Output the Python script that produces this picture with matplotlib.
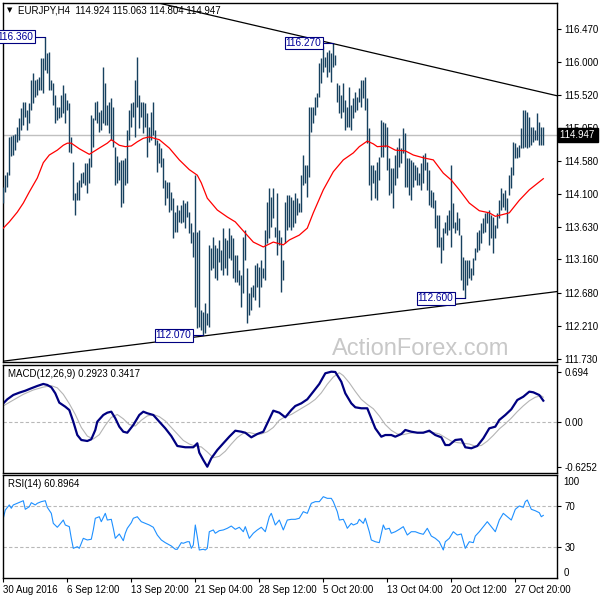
import numpy as np
import matplotlib.pyplot as plt
from matplotlib import transforms

plt.rcParams['font.family'] = ['Liberation Sans', 'DejaVu Sans']

# EURJPY H4 bars, high / low per bar
highs = [
    114.20, 114.37, 114.42, 114.92, 114.93, 114.95, 114.96, 115.06, 115.19, 115.34,
    115.42, 115.42, 115.31, 115.41, 115.74, 115.84, 115.74, 115.75, 115.78, 116.05,
    116.05, 116.36, 116.13, 116.14, 115.74, 115.69, 115.52, 115.35, 115.35, 115.52,
    115.67, 115.55, 115.45, 115.41, 114.92, 114.56, 114.11, 114.27, 114.30, 114.40,
    114.42, 114.55, 114.55, 114.62, 115.23, 115.19, 115.42, 115.43, 115.28, 115.31,
    115.92, 115.69, 115.38, 115.42, 115.48, 115.35, 114.78, 114.65, 114.56, 114.59,
    114.59, 114.62, 115.02, 115.31, 115.41, 115.42, 115.74, 116.07, 115.52, 115.42,
    115.42, 115.41, 115.26, 115.06, 115.28, 115.42, 115.02, 114.88, 114.83, 114.76,
    114.62, 114.30, 114.27, 114.27, 114.13, 114.04, 113.84, 113.94, 113.87, 113.94,
    114.01, 113.97, 114.00, 113.84, 113.68, 113.55, 114.37, 113.55, 113.58, 112.43,
    112.41, 112.54, 112.39, 113.37, 113.33, 113.48, 113.37, 113.33, 113.44, 113.30,
    113.61, 113.47, 113.44, 113.61, 113.51, 113.47, 113.22, 113.22, 113.01, 112.94,
    113.48, 113.58, 113.04, 112.68, 112.76, 112.79, 113.08, 113.11, 113.05, 113.15,
    113.04, 113.58, 113.99, 114.19, 114.06, 114.19, 113.63, 114.11, 113.58, 113.48,
    113.15, 113.99, 114.09, 114.09, 114.06, 114.01, 114.11, 114.04, 113.97, 114.37,
    114.66, 114.52, 114.52, 115.35, 115.35, 115.35, 115.49, 115.55, 115.98, 116.05,
    116.22, 116.07, 116.14, 116.17, 116.13, 116.27, 116.10, 115.69, 115.67, 115.52,
    115.69, 115.45, 115.35, 115.64, 115.38, 115.48, 115.56, 115.49, 115.62, 115.74,
    115.74, 115.78, 115.48, 115.05, 114.52, 114.52, 114.45, 114.56, 114.63, 115.16,
    115.13, 115.12, 115.06, 114.62, 114.47, 114.47, 114.66, 114.78, 114.90, 114.76,
    115.05, 114.98, 114.62, 114.62, 114.59, 114.56, 114.52, 114.49, 114.40, 114.55,
    114.66, 114.69, 114.56, 114.45, 114.16, 114.13, 114.01, 113.80, 113.80, 113.48,
    113.61, 113.70, 113.80, 113.87, 114.52, 113.97, 113.70, 113.84, 113.76, 113.51,
    113.20, 113.15, 113.15, 113.15, 113.04, 113.18, 113.33, 113.55, 113.58, 113.68,
    113.76, 113.83, 113.84, 113.87, 113.80, 113.77, 113.66, 113.83, 114.01, 114.19,
    114.11, 114.16, 114.04, 114.37, 114.49, 114.85, 114.83, 114.78, 114.80, 115.05,
    115.31, 115.31, 115.28, 115.21, 115.06, 115.06, 115.02, 115.26, 115.13, 115.06,
    115.06]
lows = [
    113.97, 114.13, 114.20, 114.37, 114.65, 114.66, 114.73, 114.85, 114.88, 115.02,
    115.09, 115.21, 115.02, 115.12, 115.31, 115.41, 115.49, 115.52, 115.59, 115.59,
    115.55, 115.88, 115.84, 115.59, 115.59, 115.38, 115.12, 115.16, 115.19, 115.21,
    115.26, 115.12, 115.31, 114.70, 114.69, 114.01, 113.80, 114.01, 114.01, 114.20,
    114.26, 114.23, 114.11, 114.26, 114.49, 114.78, 115.16, 115.12, 114.99, 115.02,
    115.12, 115.09, 115.09, 114.98, 114.88, 114.78, 114.23, 114.26, 114.30, 113.91,
    113.97, 114.23, 114.26, 114.88, 115.06, 115.21, 114.92, 115.35, 115.05, 115.21,
    114.98, 115.06, 114.63, 114.85, 114.88, 114.95, 114.80, 114.42, 114.55, 114.49,
    114.19, 113.94, 114.04, 113.84, 113.87, 113.47, 113.55, 113.55, 113.70, 113.68,
    113.70, 113.61, 113.77, 113.54, 113.40, 113.20, 112.48, 112.18, 112.19, 112.15,
    112.07, 112.10, 112.22, 112.19, 113.01, 113.04, 112.89, 112.87, 113.12, 113.01,
    112.94, 113.04, 112.94, 113.18, 113.15, 112.89, 112.84, 112.84, 112.79, 112.48,
    112.68, 113.15, 112.25, 112.36, 112.43, 112.62, 112.58, 112.76, 112.48, 112.76,
    112.89, 112.87, 113.40, 113.47, 113.63, 113.76, 113.48, 113.22, 113.37, 112.69,
    112.87, 113.40, 113.58, 113.63, 113.58, 113.63, 113.68, 113.80, 113.84, 113.84,
    114.23, 114.26, 114.06, 114.34, 114.99, 115.12, 115.23, 115.35, 115.49, 115.69,
    115.85, 115.92, 115.78, 115.85, 115.71, 115.92, 115.95, 115.42, 115.26, 115.19,
    115.28, 115.02, 115.06, 115.06, 115.02, 115.19, 115.28, 115.31, 115.42, 115.35,
    115.48, 115.31, 114.83, 114.23, 114.01, 114.26, 114.04, 114.01, 114.30, 114.63,
    114.63, 114.78, 114.45, 114.09, 114.11, 113.90, 114.23, 114.33, 114.49, 114.55,
    114.69, 114.20, 114.20, 114.09, 114.01, 114.20, 114.30, 114.23, 114.23, 114.16,
    114.26, 114.45, 114.16, 113.94, 113.91, 113.90, 113.61, 113.34, 113.34, 113.11,
    113.30, 113.54, 113.51, 113.58, 113.34, 113.61, 113.54, 113.58, 113.51, 112.87,
    112.72, 112.60, 112.79, 112.89, 112.87, 112.94, 113.15, 113.27, 113.30, 113.40,
    113.54, 113.55, 113.68, 113.37, 113.47, 113.25, 113.47, 113.61, 113.76, 113.87,
    113.91, 113.87, 113.68, 114.09, 114.19, 114.37, 114.62, 114.62, 114.63, 114.76,
    114.76, 114.78, 114.76, 114.78, 114.80, 114.85, 114.88, 114.88, 114.80, 114.80,
    114.80]
last_ohlc = [114.924, 115.063, 114.804, 114.947]

# red moving average
ma_idx = [0, 3, 7, 10, 13, 17, 20, 23, 27, 30, 32, 34, 38, 43, 48, 52, 54, 58, 61, 64,
          67, 70, 73, 78, 83, 88, 93, 97, 99, 102, 107, 112, 116, 120, 125, 130, 135, 140, 143, 148,
          152, 155, 160, 165, 170, 175, 178, 182, 185, 187, 192, 196, 201, 205, 210, 215, 220, 224, 228, 233,
          238, 243, 246, 249, 253, 258, 263, 270]
ma_val = [113.61, 113.70, 113.84, 113.97, 114.13, 114.33, 114.55, 114.66, 114.73, 114.80,
          114.83, 114.83, 114.75, 114.67, 114.76, 114.83, 114.88, 114.80, 114.78, 114.79,
          114.85, 114.90, 114.92, 114.88, 114.76, 114.59, 114.45, 114.37, 114.26, 114.04,
          113.87, 113.77, 113.70, 113.57, 113.41, 113.34, 113.41, 113.37, 113.44, 113.51,
          113.61, 113.83, 114.16, 114.42, 114.59, 114.69, 114.78, 114.86, 114.82, 114.78,
          114.79, 114.73, 114.72, 114.66, 114.62, 114.59, 114.40, 114.30, 114.16, 113.97,
          113.86, 113.83, 113.78, 113.80, 113.83, 114.01, 114.16, 114.32]

# trend lines: bar index, price
upper_x = [78, 277]
upper_y = [116.84, 115.51]
lower_x = [0, 277]
lower_y = [111.70, 112.70]

# marked extremes: bar index, price
mark_idx = [21, 165, 100, 231]
mark_val = [116.360, 116.270, 112.070, 112.600]

# MACD(12,26,9)
macd_idx = [0, 2, 5, 8, 11, 14, 17, 20, 22, 24, 26, 28, 31, 33, 35, 37, 39, 42, 44, 46,
            47, 50, 52, 54, 56, 58, 60, 62, 65, 68, 70, 72, 75, 78, 81, 84, 87, 91, 95, 97,
            98, 100, 102, 104, 107, 110, 113, 116, 119, 121, 124, 127, 130, 132, 135, 138, 141, 144, 146, 149,
            152, 155, 158, 161, 164, 166, 169, 171, 174, 176, 179, 182, 184, 186, 189, 191, 194, 196, 199, 201,
            204, 207, 210, 213, 216, 219, 221, 223, 226, 229, 231, 234, 237, 240, 243, 246, 248, 251, 254, 257,
            260, 263, 265, 268, 270]
macd_val = [0.255, 0.311, 0.371, 0.403, 0.430, 0.464, 0.496, 0.524, 0.510, 0.478,
            0.394, 0.264, 0.208, 0.162, 0.0, -0.185, -0.254, -0.268, -0.244, -0.115,
            0.0, 0.093, 0.125, 0.139, 0.047, -0.069, -0.139, -0.153, -0.046, 0.093,
            0.139, 0.117, 0.093, 0.0, -0.092, -0.199, -0.337, -0.355, -0.355, -0.300,
            -0.430, -0.532, -0.625, -0.508, -0.393, -0.300, -0.208, -0.125, -0.139, -0.153,
            -0.217, -0.171, -0.139, -0.022, 0.153, 0.125, 0.061, 0.162, 0.218, 0.255,
            0.311, 0.417, 0.524, 0.672, 0.694, 0.690, 0.555, 0.394, 0.255, 0.200,
            0.186, 0.186, 0.047, -0.092, -0.208, -0.185, -0.185, -0.208, -0.171, -0.115,
            -0.139, -0.153, -0.153, -0.125, -0.185, -0.217, -0.324, -0.324, -0.254, -0.244,
            -0.355, -0.369, -0.337, -0.231, -0.092, -0.069, 0.024, 0.093, 0.172, 0.301,
            0.347, 0.417, 0.408, 0.370, 0.292]
sig_idx = [0, 5, 10, 15, 20, 24, 27, 30, 33, 36, 39, 42, 45, 48, 51, 54, 57, 60, 63, 66,
           69, 72, 75, 78, 81, 84, 87, 90, 93, 96, 99, 102, 105, 108, 111, 114, 117, 120, 123, 126,
           129, 132, 135, 138, 141, 144, 147, 150, 153, 156, 159, 162, 165, 168, 170, 173, 176, 179, 182, 185,
           188, 191, 194, 197, 200, 203, 206, 209, 212, 215, 218, 221, 224, 227, 230, 233, 236, 239, 242, 245,
           248, 251, 254, 257, 260, 263, 266, 269, 270]
sig_val = [0.22, 0.30, 0.38, 0.44, 0.48, 0.50, 0.47, 0.38, 0.25, 0.10,
           -0.08, -0.20, -0.24, -0.18, -0.05, 0.06, 0.10, 0.04, -0.04, -0.06,
           0.02, 0.08, 0.10, 0.07, 0.01, -0.08, -0.17, -0.26, -0.31, -0.34,
           -0.35, -0.42, -0.50, -0.48, -0.41, -0.31, -0.22, -0.16, -0.15, -0.17,
           -0.17, -0.14, -0.08, 0.02, 0.07, 0.10, 0.15, 0.20, 0.25, 0.31,
           0.40, 0.52, 0.62, 0.68, 0.64, 0.54, 0.42, 0.31, 0.24, 0.18,
           0.08, -0.04, -0.12, -0.17, -0.18, -0.16, -0.15, -0.15, -0.14, -0.15,
           -0.17, -0.22, -0.27, -0.29, -0.30, -0.31, -0.34, -0.33, -0.27, -0.19,
           -0.10, -0.03, 0.05, 0.14, 0.22, 0.29, 0.34, 0.36, 0.34]

# RSI(14)
rsi_idx = [0, 1, 3, 4, 5, 7, 9, 10, 11, 13, 14, 16, 17, 19, 21, 22, 24, 25, 27, 28,
           30, 31, 33, 34, 35, 37, 38, 40, 42, 44, 45, 46, 48, 49, 51, 52, 54, 55, 56, 58,
           60, 61, 62, 64, 65, 67, 69, 71, 73, 75, 77, 79, 81, 84, 86, 87, 89, 90, 92, 93,
           94, 95, 96, 97, 98, 100, 101, 102, 103, 105, 106, 108, 110, 112, 114, 116, 118, 120, 121, 123,
           125, 127, 129, 131, 133, 134, 136, 138, 140, 142, 144, 146, 148, 150, 152, 154, 156, 158, 160, 162,
           164, 165, 167, 168, 170, 171, 172, 174, 175, 177, 178, 180, 181, 183, 184, 186, 188, 190, 191, 193,
           194, 196, 198, 200, 202, 204, 206, 208, 210, 212, 214, 216, 218, 220, 221, 223, 225, 227, 229, 231,
           233, 235, 236, 238, 240, 242, 244, 246, 248, 250, 252, 254, 256, 258, 260, 261, 262, 264, 266, 268,
           269, 270]
rsi_val = [58.1, 66.1, 71.0, 67.8, 71.0, 72.6, 74.2, 75.1, 66.8, 69.3,
           73.2, 71.0, 72.6, 74.2, 75.1, 68.7, 62.9, 53.2, 49.4, 51.6,
           56.4, 51.6, 50.0, 38.7, 29.0, 30.6, 29.0, 38.7, 37.1, 37.8,
           46.8, 58.1, 59.6, 54.8, 62.9, 56.4, 57.1, 48.4, 38.7, 42.9,
           36.4, 43.6, 48.4, 53.8, 58.1, 59.6, 54.8, 53.2, 51.6, 49.4,
           41.9, 37.1, 34.5, 31.3, 28.1, 28.1, 34.5, 33.9, 35.4, 35.4,
           29.0, 32.2, 51.6, 40.3, 27.4, 28.1, 27.4, 29.0, 45.1, 46.8,
           43.6, 46.1, 46.8, 48.4, 50.6, 47.4, 49.4, 45.1, 50.0, 38.7,
           43.6, 46.8, 49.4, 45.1, 59.6, 62.9, 51.6, 56.4, 46.8, 56.4,
           57.1, 57.1, 58.1, 64.5, 62.9, 72.6, 74.2, 74.2, 79.0, 77.4,
           77.4, 74.2, 64.5, 56.4, 57.1, 53.2, 48.4, 53.2, 51.6, 53.2,
           57.1, 53.2, 58.1, 45.1, 37.1, 35.4, 34.5, 51.6, 47.4, 48.4,
           43.6, 45.1, 47.4, 50.0, 41.9, 45.1, 45.1, 43.6, 42.6, 48.4,
           40.9, 38.7, 35.4, 27.4, 35.4, 38.7, 45.1, 41.9, 42.9, 29.0,
           35.4, 34.5, 40.9, 45.1, 50.0, 54.8, 50.0, 45.1, 56.4, 62.9,
           59.6, 56.4, 66.8, 70.0, 68.7, 74.2, 75.8, 66.8, 65.4, 63.5,
           59.6, 60.9]

price_ticks = [116.470, 116.000, 115.520, 115.050, 114.580, 114.100,
               113.630, 113.160, 112.680, 112.210, 111.730]
macd_ticks = [0.694, 0.0, -0.6252]
macd_tick_labels = ['0.694', '0.00', '-0.6252']
date_pos = [0, 32, 64, 96, 128, 160, 192, 224, 256]
date_labels = ['30 Aug 2016', '6 Sep 12:00', '13 Sep 20:00', '21 Sep 04:00', '28 Sep 12:00',
               '5 Oct 20:00', '13 Oct 04:00', '20 Oct 12:00', '27 Oct 20:00']

BAR = '#17415f'
NAVY = '#000080'
FS = 7.0
W, H = 600.0, 600.0

fig = plt.figure(figsize=(6, 6), dpi=100)
left = 2.5 / W
width = (557.3 - 2.5) / W
ax = fig.add_axes([left, 1 - 362 / H, width, (362 - 2.7) / H])
ax2 = fig.add_axes([left, 1 - 472.7 / H, width, (472.7 - 365) / H])
ax3 = fig.add_axes([left, 1 - 578.3 / H, width, (578.3 - 475) / H])

bars = np.arange(len(highs))
xlim = (-0.4, 277)

# ---- price panel
ax.axhline(last_ohlc[3], color='#c0c0c0', lw=1, zorder=1)
ax.vlines(bars, lows, highs, color=BAR, lw=1.0, zorder=3)
ax.plot(ma_idx, ma_val, color='#ff0000', lw=0.9, zorder=4)
ax.plot(upper_x, upper_y, color='black', lw=0.9, zorder=4)
ax.plot(lower_x, lower_y, color='black', lw=0.9, zorder=4)
for i, v in zip(mark_idx, mark_val):
    ax.plot([i - 5, i], [v, v], color=NAVY, lw=0.8, zorder=5)
    ax.text(i - 5.9, v, '%.3f' % v, ha='right', va='center', fontsize=FS + 0.3, color='#00009a',
            bbox=dict(boxstyle='square,pad=0.12', fc='white', ec=NAVY, lw=0.8), zorder=6)
ax.set_xlim(*xlim)
ax.set_ylim(111.688, 116.847)
ax.set_xticks([])
ax.yaxis.tick_right()
ax.set_yticks(price_ticks)
ax.set_yticklabels(['%.3f' % t for t in price_ticks])

trans = transforms.blended_transform_factory(ax.transAxes, ax.transData)
ax.text(1.004, last_ohlc[3], '114.947 ', transform=trans, ha='left', va='center', fontsize=FS,
        color='white', bbox=dict(boxstyle='square,pad=0.2', fc='black', ec='black'),
        clip_on=False, zorder=10)

fig.text(332 / W, 1 - 355 / H, 'ActionForex.com', fontsize=17, color='#c8c8c8',
         ha='left', va='baseline', zorder=0)
fig.text(9.5 / W, 1 - 10.5 / H, '\u25bc', fontsize=5, ha='center', va='center',
         family=['DejaVu Sans'])
fig.text(18 / W, 1 - 10.7 / H,
         'EURJPY,H4  %.3f %.3f %.3f %.3f' % tuple(last_ohlc),
         fontsize=FS, ha='left', va='center')

# ---- MACD panel
ax2.axhline(0, color='#b8b8b8', lw=0.8, ls=(0, (3, 2)))
ax2.plot(sig_idx, sig_val, color='#b4b4b4', lw=0.8)
ax2.plot(macd_idx, macd_val, color=NAVY, lw=1.6)
ax2.set_xlim(*xlim)
ax2.set_ylim(-0.708, 0.787)
ax2.set_xticks([])
ax2.yaxis.tick_right()
ax2.set_yticks(macd_ticks)
ax2.set_yticklabels(macd_tick_labels)
fig.text(7.7 / W, 1 - 374 / H, 'MACD(12,26,9) 0.2923 0.3417', fontsize=FS, ha='left', va='center')

# ---- RSI panel
for lvl in (70, 30):
    ax3.axhline(lvl, color='#b8b8b8', lw=0.8, ls=(0, (3, 2)))
ax3.plot(rsi_idx, rsi_val, color='#1e90ff', lw=0.8)
ax3.set_xlim(*xlim)
ax3.set_ylim(0, 100)
ax3.yaxis.tick_right()
ax3.set_yticks([70, 30])
ax3.set_yticklabels(['70', '30'])
trans3 = transforms.blended_transform_factory(ax3.transAxes, ax3.transData)
ax3.text(1.011, 93.5, '100', transform=trans3, fontsize=FS, ha='left', va='center')
ax3.text(1.011, 5.4, '0', transform=trans3, fontsize=FS, ha='left', va='center')
fig.text(7.7 / W, 1 - 484 / H, 'RSI(14) 60.8964', fontsize=FS, ha='left', va='center')
ax3.set_xticks(date_pos)
ax3.set_xticklabels(date_labels, ha='left')

for a in (ax, ax2, ax3):
    a.tick_params(axis='y', direction='out', length=3, width=0.8, labelsize=FS, pad=2)
    a.tick_params(axis='x', direction='out', length=3, width=0.8, labelsize=FS, pad=2)
    for s in a.spines.values():
        s.set_linewidth(1.0)
        s.set_color('black')

fig.savefig('out.png', dpi=100)
